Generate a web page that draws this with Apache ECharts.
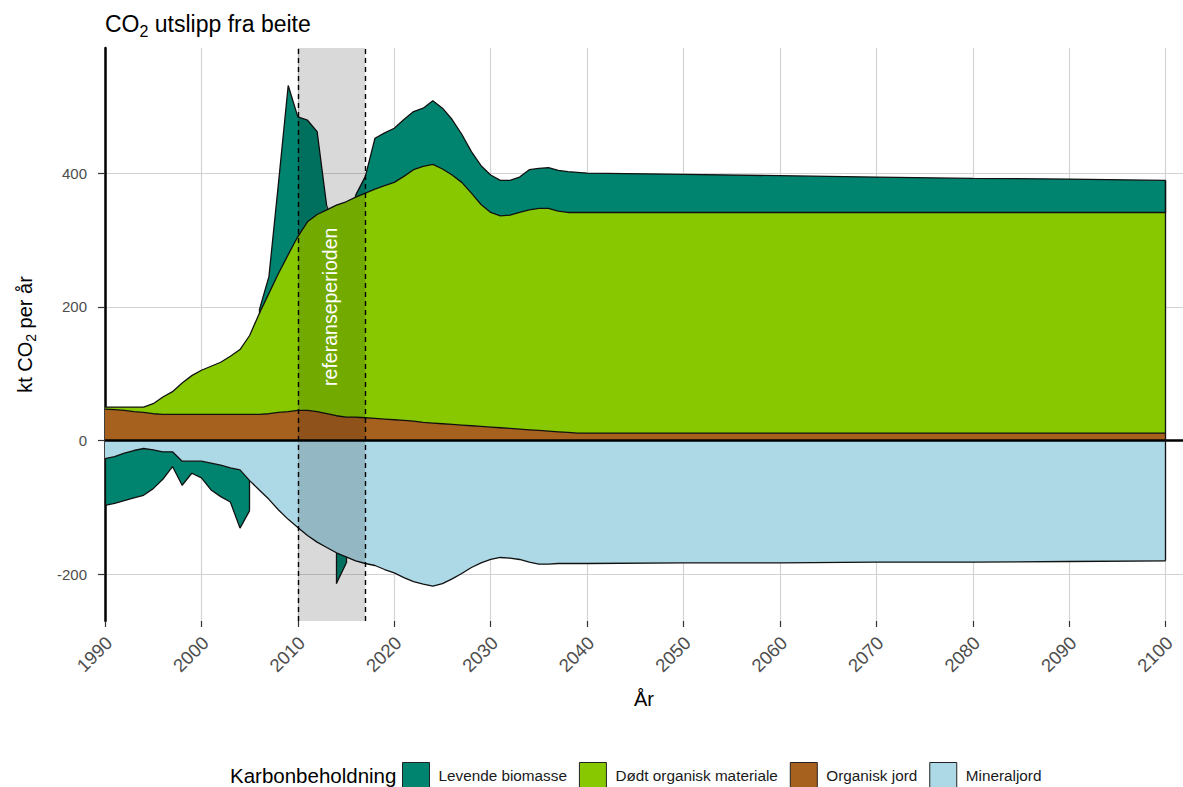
<!DOCTYPE html>
<html>
<head>
<meta charset="utf-8">
<title>CO2 utslipp fra beite</title>
<script src="https://cdn.jsdelivr.net/npm/echarts@6.0.0/dist/echarts.min.js"></script>
<style>
  html, body { margin: 0; padding: 0; background: #fff; }
  #chart { width: 1183px; height: 787px; }
</style>
</head>
<body>
<div id="chart"></div>
<script>
// years: yearly to 2040, then every 10 years (flat part)
const years = [
  1990, 1991, 1992, 1993, 1994, 1995, 1996, 1997, 1998, 1999,
  2000, 2001, 2002, 2003, 2004, 2005, 2006, 2007, 2008, 2009,
  2010, 2011, 2012, 2013, 2014, 2015, 2016, 2017, 2018, 2019,
  2020, 2021, 2022, 2023, 2024, 2025, 2026, 2027, 2028, 2029,
  2030, 2031, 2032, 2033, 2034, 2035, 2036, 2037, 2038, 2039,
  2040, 2050, 2060, 2070, 2080, 2090, 2100
];

const organiskJord = [
  47, 46, 45, 43, 42, 40, 39, 39, 39, 39,
  39, 39, 39, 39, 39, 39, 39, 40, 42, 43,
  45, 45, 43, 40, 37, 35, 35, 34, 33, 32,
  31, 30, 29, 27, 26, 25, 24, 23, 22, 21,
  20, 19, 18, 17, 16, 15, 14, 13, 12, 11,
  11, 11, 11, 11, 11, 11, 11
];

const dodtOrganisk = [
  3, 4, 5, 7, 8, 15, 26, 34, 47, 58,
  66, 72, 78, 87, 97, 118, 151, 180, 208, 235,
  260, 282, 295, 305, 315, 322, 329, 336, 343, 349,
  355, 365, 376, 383, 387, 381, 373, 363, 348, 332,
  321, 317, 319, 324, 329, 332, 333, 330, 329, 330,
  330, 330, 330, 330, 330, 330, 330
];

// Levende biomasse, split by sign (positive part sits on top, negative part below mineraljord)
const levendePos = [
  null, null, null, null, null, null, null, null, null, null,
  null, null, null, null, null, null, 5, 25, 136, 253,
  179, 152, 124, 5, null, null, 3, 25, 76, 79,
  81, 85, 87, 87, 95, 91, 83, 72, 62, 58,
  56, 53, 52, 53, 60, 60, 61, 61, 61, 60,
  59, 57, 55, 53, 51, 50, 48
];

const levendeNeg = [
  -70, -70, -71, -71, -70, -58, -41, -22, -36, -18,
  -25, -40, -47, -51, -87, -45, null, null, null, null,
  null, null, null, null, -46, -10, null, null, null, null,
  null, null, null, null, null, null, null, null, null, null,
  null, null, null, null, null, null, null, null, null, null,
  null, null, null, null, null, null, null
];

const mineraljord = [
  -27, -24, -19, -15, -12, -14, -17, -17, -31, -31,
  -31, -34, -37, -41, -44, -60, -74, -88, -104, -118,
  -130, -142, -152, -160, -168, -174, -180, -184, -187, -193,
  -198, -205, -211, -215, -218, -214, -207, -199, -190, -183,
  -178, -175, -176, -178, -182, -185, -185, -184, -184, -184,
  -184, -183, -183, -182, -182, -181, -180
];

const xTicks = [1990, 2000, 2010, 2020, 2030, 2040, 2050, 2060, 2070, 2080, 2090, 2100];
const yTicks = [-200, 0, 200, 400];
const refPeriod = [2010, 2017];
const refLabelPos = [2013.3, 200];

const names = ['Levende biomasse', 'Dødt organisk materiale', 'Organisk jord', 'Mineraljord'];
const colors = ['#00846F', '#88C800', '#A7611F', '#ADD8E6'];

const FONT = "'Liberation Sans', Arial, sans-serif";

// stacking done here (echarts stacks the x dimension when both axes are value axes)
const sumArr = (a, b) => a.map((v, i) => (v == null || b[i] == null) ? null : v + b[i]);
const topDodt = sumArr(organiskJord, dodtOrganisk);
const topLevende = sumArr(topDodt, levendePos);
const bottomLevende = sumArr(mineraljord, levendeNeg);

const pair = arr => years.map((y, i) => [y, arr[i]]);

// each layer fills down to zero; drawn from outermost to innermost
function areaSeries(name, values, color) {
  return {
    name: name,
    type: 'line',
    data: pair(values),
    symbol: 'none',
    showSymbol: false,
    connectNulls: false,
    lineStyle: { color: '#111', width: 1.3 },
    itemStyle: { color: color },
    areaStyle: { color: color, opacity: 1, origin: 'auto' },
    emphasis: { disabled: true },
    silent: true,
    z: 2
  };
}

// outline edges where an area starts or stops (the reference draws the full polygon)
function breakEdges(vals, base) {
  const out = [];
  vals.forEach((v, i) => {
    if (v == null) return;
    const starts = i === 0 || vals[i - 1] == null;
    const ends = i === vals.length - 1 || vals[i + 1] == null;
    if (starts || ends) out.push([{ coord: [years[i], base[i]] }, { coord: [years[i], base[i] + v] }]);
  });
  return out;
}
const n = years.length - 1;
const rightEdge = [
  { coord: [years[n], bottomLevende[n] != null ? bottomLevende[n] : mineraljord[n]] },
  { coord: [years[n], topLevende[n] != null ? topLevende[n] : topDodt[n]] }
];

const dashed = { color: '#000', width: 1.4, type: [5, 4] };

var chartDom = document.getElementById('chart');
var myChart = echarts.init(chartDom, null, { renderer: 'svg' });
var option;

option = {
  animation: false,
  backgroundColor: '#fff',
  graphic: [
    {
      type: 'text', x: 105, y: 24,
      style: {
        text: '{n|CO}{sub|2}{n| utslipp fra beite}',
        verticalAlign: 'middle',
        rich: {
          n: { fontSize: 23, lineHeight: 30, fontFamily: FONT, fill: '#000' },
          sub: { fontSize: 16, lineHeight: 16, verticalAlign: 'bottom', fontFamily: FONT, fill: '#000' }
        }
      }
    },
    {
      type: 'text', x: 230, y: 775,
      style: { text: 'Karbonbeholdning', font: '20.5px ' + FONT, fill: '#000', verticalAlign: 'middle' }
    }
  ],
  legend: {
    data: names.map((nm, i) => ({ name: nm, icon: 'rect', itemStyle: { color: colors[i], borderColor: '#222', borderWidth: 1 } })),
    left: 402,
    top: 762,
    padding: 0,
    itemWidth: 27,
    itemHeight: 26,
    itemGap: 12,
    selectedMode: false,
    textStyle: { fontFamily: FONT, fontSize: 15.3, color: '#1a1a1a', padding: [0, 0, 0, 4] }
  },
  grid: {
    left: 105,
    right: 0,
    top: 48,
    bottom: 166,
    containLabel: false,
    outerBoundsMode: 'none'
  },
  xAxis: {
    type: 'value',
    min: 1990,
    max: 2101.8,
    name: 'År',
    nameLocation: 'middle',
    nameGap: 68,
    nameMoveOverlap: false,
    nameTextStyle: { fontFamily: FONT, fontSize: 20, color: '#000' },
    axisLine: { show: false, onZero: false },
    axisTick: { show: true, length: 6, customValues: xTicks, lineStyle: { color: '#333', width: 1.2 } },
    axisLabel: {
      customValues: xTicks, rotate: 45, margin: 9, align: 'right', verticalAlign: 'top',
      padding: [0, 4, 0, 0],
      formatter: v => String(v),
      fontFamily: FONT, fontSize: 18.5, color: '#4d4d4d'
    },
    splitLine: { show: true, lineStyle: { color: '#d3d3d3', width: 1.2 } }
  },
  yAxis: {
    type: 'value',
    min: -270,
    max: 587,
    name: '{n|kt CO}{sub|2}{n| per år}',
    nameLocation: 'middle',
    nameGap: 67,
    nameMoveOverlap: false,
    nameTextStyle: {
      rich: {
        n: { fontSize: 20, lineHeight: 26, fontFamily: FONT, color: '#000' },
        sub: { fontSize: 14, lineHeight: 14, verticalAlign: 'bottom', fontFamily: FONT, color: '#000' }
      }
    },
    axisLine: { show: true, onZero: false, lineStyle: { color: '#000', width: 2.5 } },
    axisTick: { show: true, length: 7, customValues: yTicks, lineStyle: { color: '#333', width: 1.2 } },
    axisLabel: { customValues: yTicks, margin: 18, formatter: v => String(v), fontFamily: FONT, fontSize: 15, color: '#4d4d4d' },
    splitLine: { show: true, lineStyle: { color: '#d3d3d3', width: 1.2 } }
  },
  series: [
    areaSeries(names[0], topLevende, colors[0]),
    areaSeries(names[1], topDodt, colors[1]),
    areaSeries(names[2], organiskJord, colors[2]),
    areaSeries(names[0], bottomLevende, colors[0]),
    areaSeries(names[3], mineraljord, colors[3]),
    {
      // reference period shading, above the areas
      type: 'line',
      data: [],
      silent: true,
      z: 3,
      markArea: {
        silent: true,
        z: 3,
        itemStyle: { color: 'rgba(0,0,0,0.15)' },
        data: [[{ xAxis: refPeriod[0] }, { xAxis: refPeriod[1] }]]
      }
    },
    {
      type: 'line',
      data: [],
      silent: true,
      z: 4,
      markLine: {
        silent: true,
        z: 6,
        symbol: 'none',
        label: { show: false },
        lineStyle: { color: '#111', width: 1.3, type: 'solid' },
        data: [
          { xAxis: refPeriod[0], lineStyle: dashed },
          { xAxis: refPeriod[1], lineStyle: dashed },
          { yAxis: 0, lineStyle: { color: '#000', width: 2.6, type: 'solid' } },
          rightEdge
        ].concat(breakEdges(levendePos, topDodt), breakEdges(levendeNeg, mineraljord))
      },
      markPoint: {
        silent: true,
        z: 7,
        symbol: 'rect',
        symbolSize: 1,
        itemStyle: { color: 'rgba(0,0,0,0)' },
        label: {
          show: true, position: 'inside', rotate: 90, formatter: 'referanseperioden',
          color: '#fff', fontFamily: FONT, fontSize: 19.5
        },
        data: [{ coord: refLabelPos }]
      }
    }
  ]
};

option && myChart.setOption(option);
</script>
</body>
</html>
